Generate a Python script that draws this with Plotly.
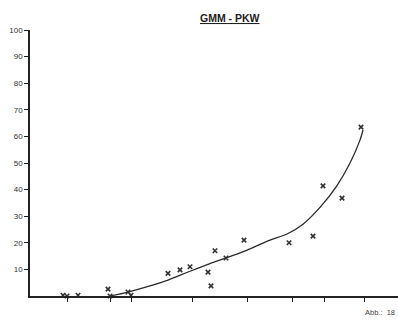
import plotly.graph_objects as go

# scatter observations (x in arbitrary horizontal units, y in %)
pts_x = [33, 37, 48, 78, 80, 98, 101, 138, 150, 160, 178, 181, 185, 196, 214, 259, 283, 293, 312, 331]
pts_y = [0.3, 0, 0.3, 2.6, 0, 1.5, 0.3, 8.5, 9.8, 11, 9, 3.8, 17, 14.3, 21, 20, 22.5, 41.4, 36.8, 63.5]

# fitted curve
curve_x = [80, 98, 120, 138, 160, 180, 196, 214, 240, 257, 273, 290, 307, 320, 330, 333]
curve_y = [0, 1.5, 3.8, 6, 9.3, 12.2, 14.3, 16.8, 21, 23.3, 27.0, 33.3, 41.5, 50, 58.6, 62.4]

# unlabeled x ticks
xticks = [37, 80, 101, 162, 217, 262, 294, 334]
yticks = [10, 20, 30, 40, 50, 60, 70, 80, 90, 100]

fig = go.Figure()
fig.add_trace(go.Scatter(x=curve_x, y=curve_y, mode="lines",
                         line=dict(color="#2a2a2a", width=1.3, shape="spline", smoothing=0.8),
                         hoverinfo="skip", showlegend=False))
fig.add_trace(go.Scatter(x=pts_x, y=pts_y, mode="markers",
                         marker=dict(symbol="x-thin", size=4.5, line=dict(color="#333333", width=1.6)),
                         showlegend=False, cliponaxis=False))

fig.update_layout(
    width=398, height=325,
    margin=dict(l=30, r=0, t=30, b=29),
    paper_bgcolor="white", plot_bgcolor="white",
    font=dict(family="Liberation Sans, Arial, sans-serif", color="#333333"),
    xaxis=dict(range=[0, 368], showgrid=False, zeroline=False, showline=True,
               linecolor="#222222", linewidth=1.5, tickvals=xticks, ticktext=[""] * len(xticks),
               ticks="outside", ticklen=4, tickwidth=1.3, tickcolor="#222222"),
    yaxis=dict(range=[0, 100], showgrid=False, zeroline=False, showline=True,
               linecolor="#222222", linewidth=1.5, tickvals=yticks,
               ticks="outside", ticklen=4, tickwidth=1.3, tickcolor="#222222",
               tickfont=dict(size=8, color="#333333")),
    annotations=[
        dict(text="<b><u>GMM - PKW</u></b>", x=(230 - 30) / 368, y=(296 - 18) / 266,
             xref="paper", yref="paper", showarrow=False,
             font=dict(size=10.5, color="#222222"), xanchor="center", yanchor="middle"),
        dict(text="Abb.:  18", x=(397 - 30) / 368, y=(296 - 312) / 266,
             xref="paper", yref="paper", showarrow=False,
             font=dict(size=7.5, color="#444444"), xanchor="right", yanchor="middle"),
    ],
)

fig.write_html("out.html")
